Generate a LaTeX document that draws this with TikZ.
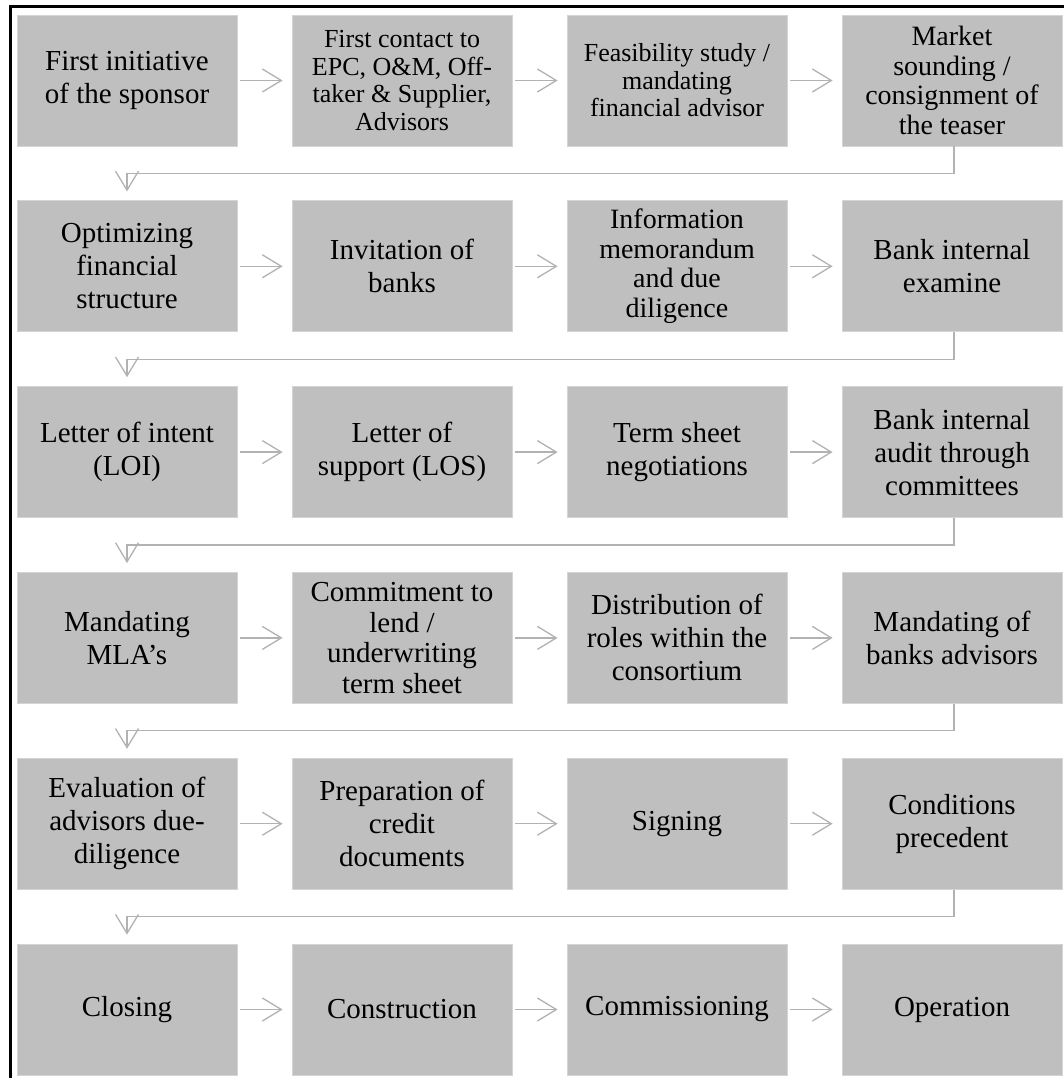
\documentclass[tikz,border=0pt]{standalone}
\usepackage{fontspec}
\setmainfont{Liberation Serif}
\usetikzlibrary{arrows.meta}
\begin{document}
\begin{tikzpicture}[x=1pt,y=-1pt,
  box/.style={minimum width=220pt,minimum height=131pt,inner sep=0pt,
    fill=black!25,draw=black!17,line width=0.8pt,align=center,
    font=\fontsize{29}{33}\selectfont},
  smalltxt/.style={font=\fontsize{26}{27.5}\selectfont},
  midtxt/.style={font=\fontsize{28}{29.5}\selectfont},
  arr/.style={draw=gray!60,line width=1.3pt,
    -{Straight Barb[length=19pt,width=23pt]}},
  frame/.style={line width=3pt,black}]
\useasboundingbox (0,0) rectangle (1064,1078);
\fill[white] (0,0) rectangle (1064,1078);
\coordinate (ftr) at (1064,6.5);
\coordinate (fbl) at (10.5,1078);
\draw[frame] (fbl) |- (ftr);
% row 1
\node[box] (r1c1) at (127,80.5) {First initiative\\of the sponsor};
\node[box,smalltxt] (r1c2) at (402,80.5) {First contact to\\EPC, O\&M, Off-\\taker \& Supplier,\\Advisors};
\node[box,smalltxt] (r1c3) at (677,80.5) {Feasibility study /\\mandating\\financial advisor};
\node[box,midtxt] (r1c4) at (952,80.5) {Market\\sounding /\\consignment of\\the teaser};
% row 2
\node[box] (r2c1) at (127,266.3) {Optimizing\\financial\\structure};
\node[box] (r2c2) at (402,266.3) {Invitation of\\banks};
\node[box,midtxt] (r2c3) at (677,266.3) {Information\\memorandum\\and due\\diligence};
\node[box] (r2c4) at (952,266.3) {Bank internal\\examine};
% row 3
\node[box] (r3c1) at (127,452.1) {Letter of intent\\(LOI)};
\node[box] (r3c2) at (402,452.1) {Letter of\\support (LOS)};
\node[box] (r3c3) at (677,452.1) {Term sheet\\negotiations};
\node[box] (r3c4) at (952,452.1) {Bank internal\\audit through\\committees};
% row 4
\node[box] (r4c1) at (127,637.9) {Mandating\\MLA’s};
\node[box,font=\fontsize{29}{30.5}\selectfont] (r4c2) at (402,637.9) {Commitment to\\lend /\\underwriting\\term sheet};
\node[box] (r4c3) at (677,637.9) {Distribution of\\roles within the\\consortium};
\node[box] (r4c4) at (952,637.9) {Mandating of\\banks advisors};
% row 5
\node[box] (r5c1) at (127,823.7) {Evaluation of\\advisors due-\\diligence};
\node[box] (r5c2) at (402,823.7) {Preparation of\\credit\\documents};
\node[box] (r5c3) at (677,823.7) {Signing};
\node[box] (r5c4) at (952,823.7) {Conditions\\precedent};
% row 6
\node[box] (r6c1) at (127,1009.5) {Closing};
\node[box] (r6c2) at (402,1009.5) {Construction};
\node[box] (r6c3) at (677,1009.5) {Commissioning};
\node[box] (r6c4) at (952,1009.5) {Operation};
% horizontal arrows
\foreach \r in {1,...,6}{
  \foreach \a/\b in {1/2,2/3,3/4}{
    \draw[arr] ([xshift=3pt]r\r c\a.east) -- ([xshift=-9pt]r\r c\b.west);
  }
}
% row-to-row connectors
\foreach \r/\n in {1/2,2/3,3/4,4/5,5/6}{
  \draw[arr] ([xshift=2pt]r\r c4.south) -- ++(0,27) -| ([yshift=9pt]r\n c1.north);
}
\end{tikzpicture}
\end{document}
